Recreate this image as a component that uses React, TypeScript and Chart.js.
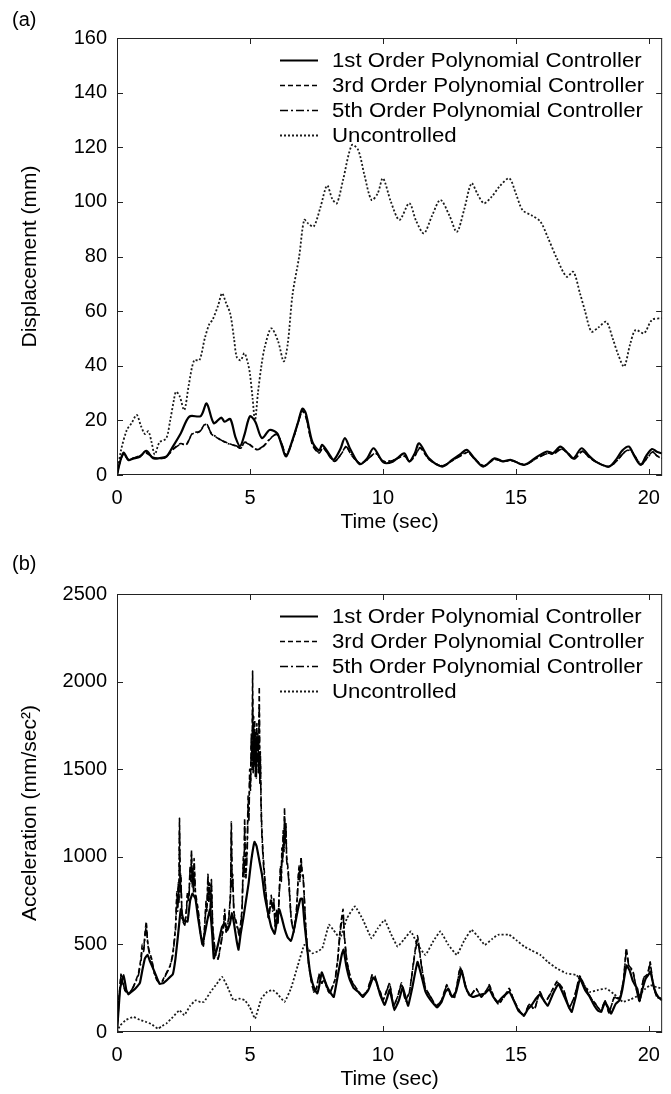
import React, { useEffect, useRef } from "react";
import { Chart, registerables } from "chart.js";

Chart.register(...registerables);

type Pt = [number, number];

const FONT = "'Liberation Sans', Arial, Helvetica, sans-serif";

const seriesLabels = [
  "1st Order Polynomial Controller",
  "3rd Order Polynomial Controller",
  "5th Order Polynomial Controller",
  "Uncontrolled",
];

// ---------- (a) Displacement (mm) vs Time (sec) ----------
const dispFirst: Pt[] = [
  [0, 0], [0.12, 5], [0.25, 8.2], [0.43, 5.5], [0.6, 6], [0.86, 6.7], [1.1, 8.8], [1.36, 6.1], [1.6, 6.2],
  [1.85, 6.7], [2.1, 10.4], [2.4, 15.3], [2.72, 21.4], [3.15, 21.6], [3.37, 26.2], [3.64, 19], [3.92, 21],
  [4.05, 19.5], [4.26, 20.5], [4.45, 14], [4.63, 10.6], [4.8, 15], [5.0, 21.5], [5.2, 19.5], [5.45, 13.5],
  [5.74, 16.5], [6.02, 15.3], [6.17, 11.6], [6.36, 6.8], [6.6, 12.9], [6.8, 19], [6.97, 24.3], [7.1, 22.6],
  [7.35, 12], [7.6, 9], [7.72, 11], [8.02, 7], [8.15, 5.5], [8.4, 9.5], [8.57, 13.5], [8.77, 9.5], [9.12, 4],
  [9.4, 6], [9.65, 9.8], [10.02, 4.6], [10.37, 4.9], [10.8, 7.9], [10.99, 4.9], [11.2, 8], [11.36, 11.6],
  [11.73, 6.1], [12.23, 3.1], [12.6, 5.5], [12.9, 7.5], [13.15, 9.2], [13.45, 6], [13.77, 3.1], [14.2, 6.1],
  [14.5, 5], [14.82, 5.5], [15.31, 3.7], [15.8, 6.7], [16.17, 8.6], [16.4, 8], [16.67, 10.4], [16.9, 8.5],
  [17.16, 6.1], [17.47, 9.8], [17.75, 7], [18.0, 4.9], [18.5, 3.1], [18.8, 6.1], [19.0, 9], [19.25, 10.4],
  [19.45, 7], [19.69, 3.7], [19.9, 7], [20.12, 9.5], [20.3, 8.5], [20.5, 7.9],
];

const dispThird: Pt[] = [
  [0, 0], [0.12, 5], [0.25, 7.5], [0.43, 5.5], [0.6, 6], [0.86, 7], [1.1, 8], [1.36, 6.5], [1.6, 6],
  [1.85, 6.5], [2.1, 9.5], [2.4, 11.5], [2.6, 11], [2.84, 15.3], [3.1, 16], [3.35, 18.9], [3.55, 15],
  [3.7, 14], [3.95, 12.5], [4.2, 11.6], [4.5, 10.5], [4.65, 9.8], [4.8, 12], [4.95, 11.5], [5.25, 9.3],
  [5.5, 10.4], [5.74, 13], [6.0, 15], [6.17, 12], [6.36, 7.3], [6.6, 12.5], [6.8, 19], [6.97, 23.5],
  [7.1, 21.5], [7.35, 11], [7.6, 8], [7.75, 10], [8.05, 6], [8.2, 5], [8.45, 8], [8.62, 10.5], [8.8, 7.5],
  [9.14, 4.2], [9.4, 5.5], [9.72, 8], [10.0, 5], [10.37, 5.3], [10.8, 7], [11.0, 5], [11.2, 7], [11.4, 10],
  [11.75, 5.5], [12.23, 3.3], [12.6, 5.2], [12.9, 7], [13.2, 8.3], [13.45, 5.8], [13.8, 3.3], [14.2, 5.8],
  [14.5, 5], [14.85, 5.2], [15.35, 3.8], [15.8, 6.3], [16.2, 8], [16.4, 7.7], [16.7, 9.6], [16.95, 8],
  [17.2, 5.8], [17.5, 8.8], [17.75, 6.5], [18.05, 4.6], [18.5, 3], [18.85, 5.8], [19.05, 8.2], [19.3, 9.3],
  [19.5, 6.5], [19.72, 3.8], [19.95, 6.5], [20.15, 8.5], [20.3, 7], [20.5, 6],
];

const dispFifth: Pt[] = [
  [0, 0], [0.12, 5.2], [0.25, 7.6], [0.43, 5.6], [0.6, 6.1], [0.86, 7.1], [1.1, 8.1], [1.36, 6.4], [1.6, 6.1],
  [1.85, 6.6], [2.1, 9.3], [2.4, 11.3], [2.6, 11.2], [2.84, 15], [3.1, 15.8], [3.35, 18.6], [3.55, 15.2],
  [3.7, 14.2], [3.95, 12.6], [4.2, 11.4], [4.5, 10.6], [4.65, 10], [4.8, 11.8], [4.95, 11.3], [5.25, 9.4],
  [5.5, 10.6], [5.74, 13.2], [6.0, 14.8], [6.17, 12.2], [6.36, 7.5], [6.6, 12.6], [6.8, 18.8], [6.97, 23.2],
  [7.1, 21.3], [7.35, 11.2], [7.6, 8.2], [7.75, 9.8], [8.05, 6.2], [8.2, 5.1], [8.45, 7.9], [8.62, 10.3],
  [8.8, 7.6], [9.14, 4.3], [9.4, 5.6], [9.72, 7.9], [10.0, 5.1], [10.37, 5.4], [10.8, 6.9], [11.0, 5.1],
  [11.2, 6.9], [11.4, 9.8], [11.75, 5.6], [12.23, 3.4], [12.6, 5.3], [12.9, 6.9], [13.2, 8.1], [13.45, 5.9],
  [13.8, 3.4], [14.2, 5.7], [14.5, 5.1], [14.85, 5.3], [15.35, 3.9], [15.8, 6.2], [16.2, 7.9], [16.4, 7.6],
  [16.7, 9.4], [16.95, 8.1], [17.2, 5.9], [17.5, 8.6], [17.75, 6.6], [18.05, 4.7], [18.5, 3.1], [18.85, 5.7],
  [19.05, 8], [19.3, 9.1], [19.5, 6.6], [19.72, 3.9], [19.95, 6.4], [20.15, 8.3], [20.3, 7.1], [20.5, 6.1],
];

const dispUncontrolled: Pt[] = [
  [0, 0], [0.15, 9], [0.37, 16.5], [0.55, 19], [0.74, 22], [0.9, 18], [1.05, 15], [1.18, 16], [1.3, 12],
  [1.42, 7.5], [1.6, 12], [1.85, 13.4], [2.0, 20], [2.15, 28], [2.22, 30.5], [2.35, 29], [2.53, 23.8],
  [2.7, 33], [2.9, 42], [3.1, 42], [3.3, 50], [3.46, 55], [3.6, 57], [3.8, 62], [3.95, 66.5], [4.1, 63],
  [4.26, 59], [4.4, 50], [4.5, 43.3], [4.65, 42], [4.79, 44.6], [4.92, 41], [5.0, 37], [5.1, 28], [5.19, 20],
  [5.3, 30], [5.43, 40], [5.56, 47], [5.8, 53.7], [6.05, 49.2], [6.27, 41.6], [6.42, 48], [6.6, 66],
  [6.85, 80], [7.04, 93.4], [7.2, 92], [7.4, 91], [7.65, 98], [7.9, 106], [8.1, 101], [8.27, 99.5],
  [8.5, 108], [8.83, 120.8], [9.07, 119], [9.3, 110], [9.57, 100.7], [9.8, 103], [10.0, 108.6], [10.3, 100],
  [10.62, 93.4], [10.99, 99.5], [11.25, 93], [11.54, 88.5], [11.85, 95], [12.16, 100.7], [12.5, 95],
  [12.78, 89], [13.05, 97], [13.33, 106.8], [13.55, 103], [13.8, 99.5], [14.1, 102], [14.38, 105.6],
  [14.75, 108.6], [15.0, 103], [15.25, 97], [15.6, 95], [15.92, 92.8], [16.2, 87], [16.54, 79.3],
  [16.91, 72.6], [17.16, 74.4], [17.41, 66.5], [17.6, 60], [17.84, 52.5], [18.1, 54], [18.4, 56.1],
  [18.64, 50], [18.85, 44], [19.07, 39.7], [19.3, 48], [19.5, 53.1], [19.82, 51.9], [20.12, 56.8], [20.5, 57.4],
];

// ---------- (b) Acceleration (mm/sec²) vs Time (sec) ----------
const accFirst: Pt[] = [
  [0, 0], [0.12, 250], [0.25, 325], [0.35, 240], [0.43, 215], [0.55, 230], [0.7, 250], [0.86, 280],
  [0.95, 350], [1.05, 420], [1.15, 440], [1.25, 400], [1.42, 340], [1.6, 275], [1.75, 280], [1.9, 300],
  [2.1, 330], [2.2, 420], [2.3, 560], [2.4, 700], [2.5, 640], [2.65, 630], [2.75, 750], [2.84, 790],
  [2.95, 760], [3.05, 650], [3.21, 500], [3.3, 560], [3.4, 640], [3.5, 700], [3.58, 560], [3.64, 420],
  [3.75, 470], [3.83, 520], [3.95, 600], [4.05, 620], [4.15, 580], [4.25, 620], [4.32, 680], [4.4, 620],
  [4.5, 520], [4.57, 470], [4.65, 560], [4.75, 650], [4.85, 750], [4.95, 850], [5.05, 980], [5.17, 1085],
  [5.25, 1060], [5.35, 980], [5.45, 900], [5.55, 780], [5.68, 680], [5.8, 600], [5.93, 560], [6.0, 620],
  [6.1, 700], [6.2, 650], [6.3, 590], [6.42, 540], [6.54, 520], [6.65, 580], [6.79, 690], [6.9, 760],
  [6.97, 760], [7.05, 620], [7.15, 480], [7.25, 350], [7.35, 280], [7.45, 240], [7.53, 220], [7.6, 260],
  [7.7, 340], [7.8, 300], [7.9, 260], [8.0, 230], [8.15, 200], [8.3, 320], [8.45, 440], [8.52, 470],
  [8.62, 380], [8.75, 300], [8.9, 250], [9.07, 230], [9.25, 200], [9.45, 240], [9.63, 310], [9.75, 290],
  [9.9, 210], [10.06, 155], [10.15, 190], [10.25, 240], [10.35, 180], [10.43, 125], [10.6, 180],
  [10.74, 255], [10.85, 200], [10.95, 150], [11.1, 250], [11.3, 400], [11.45, 320], [11.6, 230],
  [11.8, 180], [12.04, 140], [12.2, 170], [12.35, 230], [12.47, 245], [12.6, 200], [12.75, 230],
  [12.96, 350], [13.1, 260], [13.25, 210], [13.4, 200], [13.6, 210], [13.83, 220], [14.0, 245],
  [14.15, 200], [14.32, 170], [14.5, 200], [14.75, 230], [14.95, 170], [15.1, 120], [15.31, 95],
  [15.45, 130], [15.6, 155], [15.75, 190], [15.9, 215], [16.05, 180], [16.2, 150], [16.4, 220],
  [16.6, 275], [16.8, 210], [17.0, 140], [17.1, 115], [17.25, 200], [17.41, 305], [17.6, 240],
  [17.78, 200], [17.95, 150], [18.1, 120], [18.21, 115], [18.35, 170], [18.47, 140], [18.58, 105],
  [18.75, 160], [18.89, 180], [19.0, 240], [19.16, 380], [19.28, 350], [19.4, 290], [19.57, 245],
  [19.65, 175], [19.75, 240], [19.88, 305], [20.0, 330], [20.06, 345], [20.2, 250], [20.35, 200], [20.5, 180],
];

const accThird: Pt[] = [
  [0, 0], [0.08, 200], [0.15, 330], [0.22, 280], [0.3, 240], [0.4, 215], [0.5, 230], [0.6, 250], [0.7, 290],
  [0.8, 330], [0.9, 420], [0.95, 500], [1.0, 470], [1.05, 560], [1.1, 630], [1.15, 520], [1.2, 470],
  [1.3, 420], [1.4, 340], [1.5, 300], [1.6, 280], [1.7, 290], [1.8, 320], [1.9, 350], [2.0, 380], [2.1, 450],
  [2.2, 600], [2.25, 800], [2.28, 700], [2.3, 850], [2.33, 760], [2.35, 1220], [2.38, 820], [2.4, 900],
  [2.45, 650], [2.55, 620], [2.62, 720], [2.65, 800], [2.7, 760], [2.75, 950], [2.78, 880], [2.8, 1040],
  [2.83, 850], [2.85, 940], [2.88, 820], [2.9, 990], [2.95, 800], [3.05, 700], [3.15, 560], [3.25, 500],
  [3.35, 750], [3.38, 700], [3.42, 900], [3.45, 760], [3.48, 850], [3.52, 700], [3.55, 870], [3.6, 600],
  [3.7, 450], [3.8, 420], [3.9, 500], [4.0, 600], [4.05, 700], [4.1, 580], [4.2, 650], [4.27, 800],
  [4.3, 1200], [4.33, 850], [4.35, 900], [4.4, 680], [4.5, 620], [4.6, 560], [4.7, 700], [4.75, 1000],
  [4.78, 900], [4.8, 1220], [4.83, 950], [4.85, 900], [4.9, 1100], [4.93, 1350], [4.96, 1250], [4.99, 1500],
  [5.02, 1400], [5.05, 1700], [5.08, 1550], [5.1, 2060], [5.12, 1500], [5.14, 1800], [5.16, 1550],
  [5.18, 1780], [5.2, 1500], [5.22, 1720], [5.24, 1480], [5.26, 1760], [5.28, 1550], [5.3, 1700],
  [5.32, 1500], [5.35, 1970], [5.37, 1450], [5.39, 1600], [5.42, 1300], [5.45, 1150], [5.5, 1000],
  [5.6, 800], [5.7, 650], [5.75, 720], [5.8, 780], [5.85, 700], [5.9, 760], [5.95, 600], [6.0, 700],
  [6.05, 620], [6.1, 800], [6.15, 950], [6.18, 880], [6.2, 1050], [6.23, 980], [6.25, 1150], [6.28, 1050],
  [6.3, 1280], [6.32, 1100], [6.35, 1200], [6.38, 1000], [6.42, 950], [6.45, 900], [6.55, 650], [6.65, 580],
  [6.75, 700], [6.82, 900], [6.85, 950], [6.88, 880], [6.92, 1000], [6.96, 920], [7.0, 900], [7.1, 600],
  [7.2, 400], [7.3, 300], [7.4, 230], [7.5, 250], [7.6, 330], [7.7, 280], [7.8, 300], [7.9, 250],
  [8.0, 220], [8.1, 260], [8.2, 300], [8.3, 420], [8.4, 600], [8.5, 700], [8.55, 550], [8.65, 400],
  [8.8, 300], [9.0, 250], [9.2, 210], [9.4, 230], [9.6, 330], [9.7, 320], [9.8, 260], [9.9, 230],
  [10.0, 180], [10.1, 220], [10.25, 280], [10.4, 150], [10.55, 200], [10.7, 280], [10.85, 180], [11.0, 230],
  [11.15, 400], [11.3, 550], [11.45, 380], [11.6, 250], [11.8, 200], [12.0, 150], [12.2, 180], [12.4, 270],
  [12.55, 210], [12.7, 200], [12.9, 370], [13.0, 330], [13.15, 240], [13.3, 210], [13.5, 250], [13.7, 200],
  [13.9, 240], [14.0, 270], [14.2, 190], [14.35, 160], [14.55, 200], [14.75, 250], [14.9, 190], [15.1, 130],
  [15.3, 90], [15.5, 160], [15.7, 130], [15.9, 230], [16.1, 170], [16.3, 220], [16.55, 290], [16.8, 240],
  [17.0, 140], [17.2, 200], [17.4, 320], [17.6, 260], [17.8, 200], [18.0, 160], [18.2, 120], [18.35, 180],
  [18.5, 110], [18.7, 200], [18.9, 190], [19.05, 300], [19.15, 480], [19.25, 380], [19.4, 350], [19.55, 230],
  [19.65, 170], [19.8, 310], [19.95, 330], [20.05, 400], [20.15, 280], [20.3, 200], [20.5, 190],
];

const accFifth: Pt[] = [
  [0, 0], [0.08, 190], [0.15, 320], [0.22, 285], [0.3, 235], [0.4, 220], [0.5, 225], [0.6, 255], [0.7, 285],
  [0.8, 320], [0.9, 400], [0.95, 480], [1.0, 460], [1.05, 540], [1.1, 610], [1.15, 510], [1.2, 460],
  [1.3, 410], [1.4, 335], [1.5, 295], [1.6, 280], [1.7, 285], [1.8, 315], [1.9, 345], [2.0, 375], [2.1, 440],
  [2.2, 580], [2.25, 760], [2.28, 690], [2.3, 820], [2.33, 740], [2.35, 1150], [2.38, 800], [2.4, 880],
  [2.45, 640], [2.55, 610], [2.62, 700], [2.65, 780], [2.7, 740], [2.75, 930], [2.78, 860], [2.8, 1010],
  [2.83, 830], [2.85, 920], [2.88, 800], [2.9, 960], [2.95, 780], [3.05, 690], [3.15, 550], [3.25, 490],
  [3.35, 730], [3.38, 690], [3.42, 880], [3.45, 740], [3.48, 830], [3.52, 690], [3.55, 850], [3.6, 590],
  [3.7, 445], [3.8, 415], [3.9, 490], [4.0, 590], [4.05, 680], [4.1, 570], [4.2, 640], [4.27, 780],
  [4.3, 1150], [4.33, 830], [4.35, 880], [4.4, 670], [4.5, 610], [4.6, 550], [4.7, 680], [4.75, 960],
  [4.78, 880], [4.8, 1180], [4.83, 930], [4.85, 880], [4.9, 1050], [4.93, 1300], [4.96, 1200], [4.99, 1450],
  [5.02, 1380], [5.05, 1650], [5.08, 1500], [5.1, 1900], [5.12, 1480], [5.14, 1750], [5.16, 1520],
  [5.18, 1700], [5.2, 1460], [5.22, 1680], [5.24, 1450], [5.26, 1700], [5.28, 1520], [5.3, 1660],
  [5.32, 1480], [5.35, 1850], [5.37, 1420], [5.39, 1560], [5.42, 1260], [5.45, 1120], [5.5, 970],
  [5.6, 780], [5.7, 640], [5.75, 700], [5.8, 760], [5.85, 690], [5.9, 740], [5.95, 590], [6.0, 690],
  [6.05, 610], [6.1, 780], [6.15, 930], [6.18, 860], [6.2, 1020], [6.23, 960], [6.25, 1120], [6.28, 1030],
  [6.3, 1230], [6.32, 1080], [6.35, 1170], [6.38, 980], [6.42, 930], [6.45, 880], [6.55, 640], [6.65, 570],
  [6.75, 690], [6.82, 880], [6.85, 930], [6.88, 860], [6.92, 980], [6.96, 900], [7.0, 880], [7.1, 590],
  [7.2, 395], [7.3, 295], [7.4, 228], [7.5, 248], [7.6, 325], [7.7, 278], [7.8, 295], [7.9, 248],
  [8.0, 218], [8.1, 255], [8.2, 295], [8.3, 410], [8.4, 580], [8.5, 670], [8.55, 540], [8.65, 395],
  [8.8, 295], [9.0, 248], [9.2, 208], [9.4, 228], [9.6, 325], [9.7, 315], [9.8, 255], [9.9, 228],
  [10.0, 178], [10.1, 218], [10.25, 275], [10.4, 148], [10.55, 198], [10.7, 275], [10.85, 178], [11.0, 228],
  [11.15, 390], [11.3, 530], [11.45, 375], [11.6, 248], [11.8, 198], [12.0, 148], [12.2, 178], [12.4, 265],
  [12.55, 208], [12.7, 198], [12.9, 360], [13.0, 325], [13.15, 238], [13.3, 208], [13.5, 248], [13.7, 198],
  [13.9, 238], [14.0, 265], [14.2, 188], [14.35, 158], [14.55, 198], [14.75, 245], [14.9, 188], [15.1, 128],
  [15.3, 90], [15.5, 158], [15.7, 128], [15.9, 228], [16.1, 168], [16.3, 218], [16.55, 285], [16.8, 238],
  [17.0, 138], [17.2, 198], [17.4, 315], [17.6, 255], [17.8, 198], [18.0, 158], [18.2, 118], [18.35, 178],
  [18.5, 110], [18.7, 198], [18.9, 188], [19.05, 295], [19.15, 460], [19.25, 375], [19.4, 345], [19.55, 228],
  [19.65, 168], [19.8, 305], [19.95, 325], [20.05, 390], [20.15, 275], [20.3, 198], [20.5, 188],
];

const accUncontrolled: Pt[] = [
  [0, 0], [0.12, 38], [0.35, 70], [0.62, 86], [0.85, 70], [1.1, 57], [1.3, 45], [1.54, 19], [1.7, 35],
  [1.85, 48], [2.1, 85], [2.35, 124], [2.53, 96], [2.75, 150], [2.96, 181], [3.15, 170], [3.27, 172],
  [3.52, 229], [3.75, 275], [3.95, 315], [4.15, 260], [4.38, 181], [4.6, 190], [4.81, 181], [5.0, 140],
  [5.19, 76], [5.43, 191], [5.65, 230], [5.86, 239], [6.05, 215], [6.3, 172], [6.54, 248], [6.8, 380],
  [7.04, 497], [7.2, 470], [7.35, 449], [7.55, 460], [7.72, 478], [7.97, 612], [8.15, 580], [8.39, 535],
  [8.65, 650], [8.95, 717], [9.25, 640], [9.57, 535], [9.8, 590], [10.06, 640], [10.3, 560], [10.55, 488],
  [10.8, 530], [11.05, 574], [11.3, 500], [11.6, 440], [11.9, 520], [12.16, 574], [12.45, 500],
  [12.78, 440], [13.05, 520], [13.33, 583], [13.6, 540], [13.83, 497], [14.1, 530], [14.32, 555],
  [14.75, 555], [15.05, 520], [15.31, 488], [15.6, 465], [15.92, 440], [16.2, 400], [16.54, 363],
  [16.91, 334], [17.28, 325], [17.5, 280], [17.78, 229], [18.1, 240], [18.4, 248], [18.7, 215],
  [19.02, 172], [19.3, 185], [19.63, 210], [19.85, 245], [20.06, 267], [20.3, 255], [20.5, 248],
];

// ---------- helpers ----------
const lineStyles = [
  { color: "#000", width: 2.2, dash: [] as number[] },
  { color: "#000", width: 1.6, dash: [5, 3] },
  { color: "#000", width: 1.6, dash: [8, 3, 2, 3] },
  { color: "#1a1a1a", width: 1.8, dash: [2, 2] },
];

function makeDatasets(series: Pt[][], tension: number) {
  return series.map((pts, i) => ({
    label: seriesLabels[i],
    data: pts.map(([x, y]) => ({ x, y })),
    borderColor: lineStyles[i].color,
    backgroundColor: lineStyles[i].color,
    borderWidth: lineStyles[i].width,
    borderDash: lineStyles[i].dash,
    pointRadius: 0,
    tension,
    fill: false,
  }));
}

const frameTicksPlugin = {
  id: "frameTicks",
  afterDraw(chart: any) {
    const { ctx, chartArea: a, scales } = chart;
    ctx.save();
    ctx.strokeStyle = "#222";
    ctx.lineWidth = 1;
    ctx.setLineDash([]);
    ctx.strokeRect(a.left + 0.5, a.top + 0.5, a.right - a.left - 1, a.bottom - a.top - 1);
    const L = 6;
    ctx.beginPath();
    for (const t of scales.x.ticks) {
      const px = Math.round(scales.x.getPixelForValue(t.value)) + 0.5;
      ctx.moveTo(px, a.bottom);
      ctx.lineTo(px, a.bottom - L);
      ctx.moveTo(px, a.top);
      ctx.lineTo(px, a.top + L);
    }
    for (const t of scales.y.ticks) {
      const py = Math.round(scales.y.getPixelForValue(t.value)) + 0.5;
      ctx.moveTo(a.left, py);
      ctx.lineTo(a.left + L, py);
      ctx.moveTo(a.right, py);
      ctx.lineTo(a.right - L, py);
    }
    ctx.stroke();
    ctx.restore();
  },
};

const panelLabelPlugin = {
  id: "panelLabel",
  afterDraw(chart: any, _args: any, opts: any) {
    if (!opts || !opts.text) return;
    const { ctx } = chart;
    ctx.save();
    ctx.font = `20px ${FONT}`;
    ctx.fillStyle = "#000";
    ctx.textAlign = "left";
    ctx.textBaseline = "middle";
    ctx.fillText(opts.text, opts.x, opts.y);
    ctx.restore();
  },
};

const insideLegendPlugin = {
  id: "insideLegend",
  afterDraw(chart: any, _args: any, opts: any) {
    if (!opts) return;
    const { ctx } = chart;
    const { x, y, rowH, len, gap, size, stretch } = opts;
    ctx.save();
    chart.data.datasets.forEach((ds: any, i: number) => {
      const cy = y + i * rowH;
      ctx.beginPath();
      ctx.strokeStyle = ds.borderColor;
      ctx.lineWidth = ds.borderWidth;
      ctx.setLineDash(ds.borderDash || []);
      ctx.moveTo(x, cy + 0.5);
      ctx.lineTo(x + len, cy + 0.5);
      ctx.stroke();
      ctx.setLineDash([]);
      ctx.save();
      ctx.translate(x + len + gap, cy);
      ctx.scale(stretch, 1);
      ctx.font = `${size}px ${FONT}`;
      ctx.fillStyle = "#000";
      ctx.textAlign = "left";
      ctx.textBaseline = "middle";
      ctx.fillText(ds.label, 0, 1);
      ctx.restore();
    });
    ctx.restore();
  },
};

interface PanelProps {
  top: number;
  height: number;
  series: Pt[][];
  tension: number;
  yMax: number;
  yStep: number;
  yTitle: string;
  padTop: number;
  padBottom: number;
  label: string;
  labelY: number;
  legendY: number;
}

const W = 671;

function Panel(p: PanelProps) {
  const ref = useRef<HTMLCanvasElement | null>(null);
  useEffect(() => {
    if (!ref.current) return;
    const chart = new Chart(ref.current, {
      type: "line",
      data: { datasets: makeDatasets(p.series, p.tension) as any },
      options: {
        responsive: false,
        animation: false,
        devicePixelRatio: 1,
        layout: { padding: { top: p.padTop, bottom: p.padBottom, left: 0, right: 1 } },
        plugins: {
          legend: { display: false },
          tooltip: { enabled: false },
          panelLabel: { text: p.label, x: 12, y: p.labelY },
          insideLegend: { x: 280, y: p.legendY, rowH: 25, len: 38, gap: 14, size: 20, stretch: 1.11 },
        } as any,
        scales: {
          x: {
            type: "linear",
            min: 0,
            max: 20.5,
            grid: { display: false, drawTicks: false },
            border: { display: false },
            ticks: {
              stepSize: 5,
              includeBounds: false,
              padding: 11,
              color: "#000",
              font: { size: 20, family: FONT },
              maxRotation: 0,
            },
            title: {
              display: true,
              text: "Time (sec)",
              color: "#000",
              font: { size: 21, family: FONT },
              padding: { top: 0, bottom: 2 },
            },
            afterFit: (s: any) => {
              s.height = 62;
            },
          },
          y: {
            type: "linear",
            min: 0,
            max: p.yMax,
            grid: { display: false, drawTicks: false },
            border: { display: false },
            ticks: {
              stepSize: p.yStep,
              padding: 10,
              color: "#000",
              font: { size: 20, family: FONT },
              callback: (v: any) => String(v),
            },
            title: {
              display: true,
              text: p.yTitle,
              color: "#000",
              font: { size: 21, family: FONT },
              padding: { top: 18, bottom: 0 },
            },
            afterFit: (s: any) => {
              s.width = 117;
            },
          },
        },
      } as any,
      plugins: [frameTicksPlugin, panelLabelPlugin, insideLegendPlugin],
    });
    return () => chart.destroy();
  }, []);
  return (
    <canvas
      ref={ref}
      width={W}
      height={p.height}
      style={{ position: "absolute", left: 0, top: p.top, width: W, height: p.height, display: "block" }}
    />
  );
}

export default function App() {
  return (
    <div
      style={{
        position: "absolute",
        left: 0,
        top: 0,
        width: W,
        height: 1094,
        overflow: "hidden",
        background: "#fff",
      }}
    >
      <Panel
        top={0}
        height={540}
        series={[dispFirst, dispThird, dispFifth, dispUncontrolled]}
        tension={0.3}
        yMax={160}
        yStep={20}
        yTitle="Displacement (mm)"
        padTop={38}
        padBottom={3}
        label="(a)"
        labelY={20}
        legendY={60}
      />
      <Panel
        top={540}
        height={554}
        series={[accFirst, accThird, accFifth, accUncontrolled]}
        tension={0.1}
        yMax={2500}
        yStep={500}
        yTitle="Acceleration (mm/sec²)"
        padTop={54}
        padBottom={0}
        label="(b)"
        labelY={24}
        legendY={76}
      />
    </div>
  );
}
